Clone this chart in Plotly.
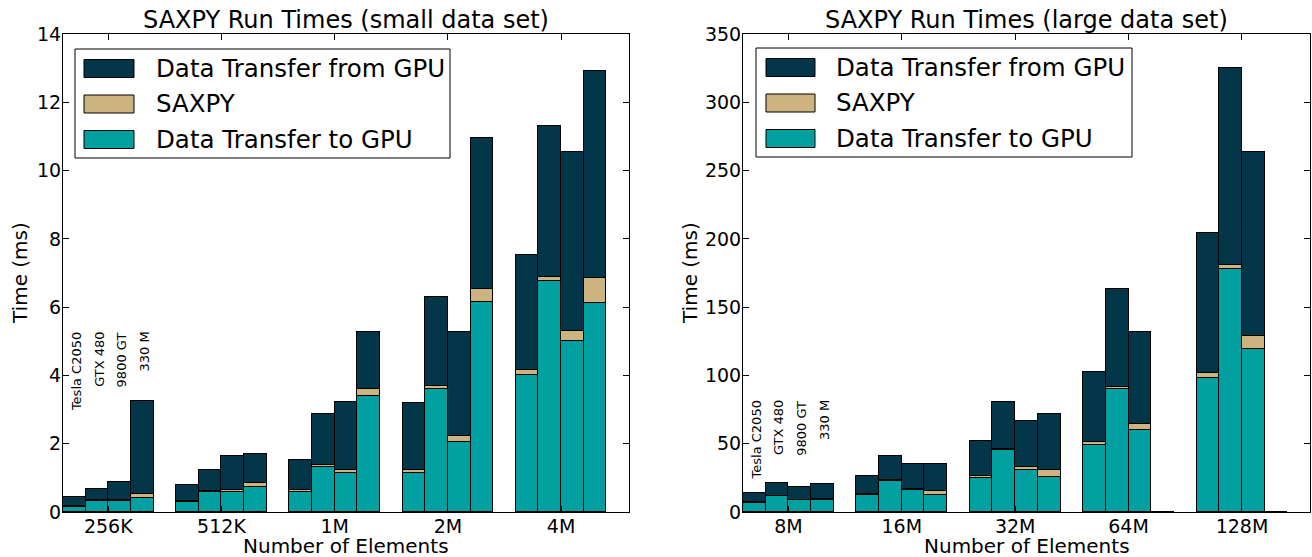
import plotly.graph_objects as go

W, H = 1312, 557

devices = ["Tesla C2050", "GTX 480", "9800 GT", "330 M"]
small_sizes = ["256K", "512K", "1M", "2M", "4M"]
large_sizes = ["8M", "16M", "32M", "64M", "128M"]
segment_names = ["Data Transfer to GPU", "SAXPY", "Data Transfer from GPU"]

# small data set (ms), one list per device across sizes
small_to_gpu = [
    [0.15, 0.28, 0.59, 1.15, 4.01],
    [0.31, 0.58, 1.31, 3.61, 6.76],
    [0.31, 0.58, 1.15, 2.06, 5.01],
    [0.40, 0.72, 3.39, 6.16, 6.12],
]
small_saxpy = [
    [0.03, 0.03, 0.04, 0.08, 0.16],
    [0.03, 0.03, 0.06, 0.09, 0.13],
    [0.05, 0.06, 0.08, 0.17, 0.29],
    [0.12, 0.12, 0.21, 0.37, 0.73],
]
small_from_gpu = [
    [0.25, 0.48, 0.90, 1.96, 3.35],
    [0.32, 0.63, 1.49, 2.61, 4.41],
    [0.51, 1.01, 1.98, 3.05, 5.23],
    [2.72, 0.86, 1.67, 4.42, 6.07],
]

# large data set (ms)
large_to_gpu = [
    [6.9, 12.8, 25.1, 49.2, 97.8],
    [11.5, 22.8, 45.3, 90.0, 178.1],
    [8.6, 16.2, 30.6, 59.9, 119.3],
    [8.6, 12.8, 25.6, 0.0, 0.0],
]
large_saxpy = [
    [0.5, 0.6, 1.0, 2.1, 4.0],
    [0.5, 0.6, 1.0, 1.6, 2.7],
    [0.5, 0.8, 2.1, 4.5, 9.7],
    [1.0, 2.7, 4.8, 0.0, 0.0],
]
large_from_gpu = [
    [6.6, 13.1, 26.0, 51.5, 102.5],
    [9.4, 17.6, 34.3, 71.4, 144.3],
    [9.1, 17.9, 34.3, 67.7, 134.4],
    [10.8, 19.9, 41.3, 0.0, 0.0],
]

colors = {"Data Transfer to GPU": "#00A0A0",
          "SAXPY": "#CDB380",
          "Data Transfer from GPU": "#033649"}

FONT = "DejaVu Sans"
BAR_W = 0.2


def px(x):
    return x / W


def py(y):
    return 1 - y / H


def positions(n_groups, n_dev):
    return [g + BAR_W * d + BAR_W / 2 for g in range(n_groups) for d in range(n_dev)]


def flat(vals):
    return [vals[d][g] for g in range(len(vals[0])) for d in range(len(vals))]


fig = go.Figure()

panels = [
    ("x", "y", small_sizes, [small_to_gpu, small_saxpy, small_from_gpu]),
    ("x2", "y2", large_sizes, [large_to_gpu, large_saxpy, large_from_gpu]),
]
for xa, ya, sizes, segs in panels:
    xpos = positions(len(sizes), len(devices))
    for name, vals in zip(segment_names, segs):
        fig.add_trace(go.Bar(
            x=xpos, y=flat(vals), width=BAR_W, name=name,
            marker=dict(color=colors[name], line=dict(color="black", width=1)),
            xaxis=xa, yaxis=ya, showlegend=False,
        ))

axis_common = dict(showline=True, linecolor="black", linewidth=1, mirror="ticks",
                   ticks="inside", ticklen=6, tickcolor="black", showgrid=False,
                   zeroline=False, automargin=False, ticklabelstandoff=-3,
                   tickfont=dict(family=FONT, size=19, color="black"))

fig.update_layout(
    width=W, height=H, margin=dict(l=0, r=0, t=0, b=0, pad=0, autoexpand=False),
    paper_bgcolor="white", plot_bgcolor="white", barmode="stack", bargap=0,
    showlegend=False,
    font=dict(family=FONT, color="black"),
    xaxis=dict(domain=[px(63), px(629)], range=[0, 5],
               tickvals=[g + 0.4 for g in range(5)], ticktext=small_sizes, **axis_common),
    yaxis=dict(domain=[py(512), py(34)], range=[0, 14], tickvals=list(range(0, 15, 2)),
               anchor="x", **axis_common),
    xaxis2=dict(domain=[px(743), px(1310)], range=[0, 5],
                tickvals=[g + 0.4 for g in range(5)], ticktext=large_sizes, anchor="y2", **axis_common),
    yaxis2=dict(domain=[py(512), py(34)], range=[0, 350], tickvals=list(range(0, 351, 50)),
                anchor="x2", **axis_common),
)

ann = []
shapes = []

# titles and axis labels
for (xl, xr), title in [((63, 629), "SAXPY Run Times (small data set)"),
                        ((743, 1310), "SAXPY Run Times (large data set)")]:
    ann.append(dict(xref="paper", yref="paper", x=px((xl + xr) / 2), y=py(20), text=title,
                    showarrow=False, xanchor="center", yanchor="middle", borderpad=0,
                    font=dict(family=FONT, size=24, color="black")))
    ann.append(dict(xref="paper", yref="paper", x=px((xl + xr) / 2), y=py(545.5),
                    text="Number of Elements", showarrow=False, xanchor="center",
                    yanchor="middle", borderpad=0,
                    font=dict(family=FONT, size=20, color="black")))
for xc in (20, 690):
    ann.append(dict(xref="paper", yref="paper", x=px(xc), y=py(273), text="Time (ms)",
                    textangle=-90, showarrow=False, xanchor="center", yanchor="middle",
                    borderpad=0, font=dict(family=FONT, size=20, color="black")))

# device labels above the first group
for xa, ya, ytop in [("x", "y", 5.3), ("x2", "y2", 82.5)]:
    for d, dev in enumerate(devices):
        ann.append(dict(xref=xa, yref=ya, x=BAR_W * d + BAR_W / 2 + 0.02, y=ytop, text=dev,
                        textangle=-90, showarrow=False, xanchor="center", yanchor="top",
                        borderpad=0, font=dict(family=FONT, size=13, color="black")))

# legends (drawn)
legend_order = ["Data Transfer from GPU", "SAXPY", "Data Transfer to GPU"]
for bx0, by0, bx1, by1, sx0, sx1, tx in [(75, 49, 450, 158, 84, 134, 155),
                                         (756, 48, 1132, 157, 766, 815, 835)]:
    shapes.append(dict(type="rect", xref="paper", yref="paper", x0=px(bx0), x1=px(bx1),
                       y0=py(by0), y1=py(by1), line=dict(color="black", width=1),
                       fillcolor="white"))
    for i, name in enumerate(legend_order):
        yc = by0 + 19.5 + 35.5 * i
        shapes.append(dict(type="rect", xref="paper", yref="paper", x0=px(sx0), x1=px(sx1),
                           y0=py(yc - 9), y1=py(yc + 9), line=dict(color="black", width=1),
                           fillcolor=colors[name]))
        ann.append(dict(xref="paper", yref="paper", x=px(tx), y=py(yc), text=name,
                        showarrow=False, xanchor="left", yanchor="middle", borderpad=0,
                        font=dict(family=FONT, size=24.5, color="black")))

fig.update_layout(annotations=ann, shapes=shapes)
fig.write_html("out.html", config={"displayModeBar": False},
               post_script="document.body.style.margin='0';document.body.style.overflow='hidden';")
